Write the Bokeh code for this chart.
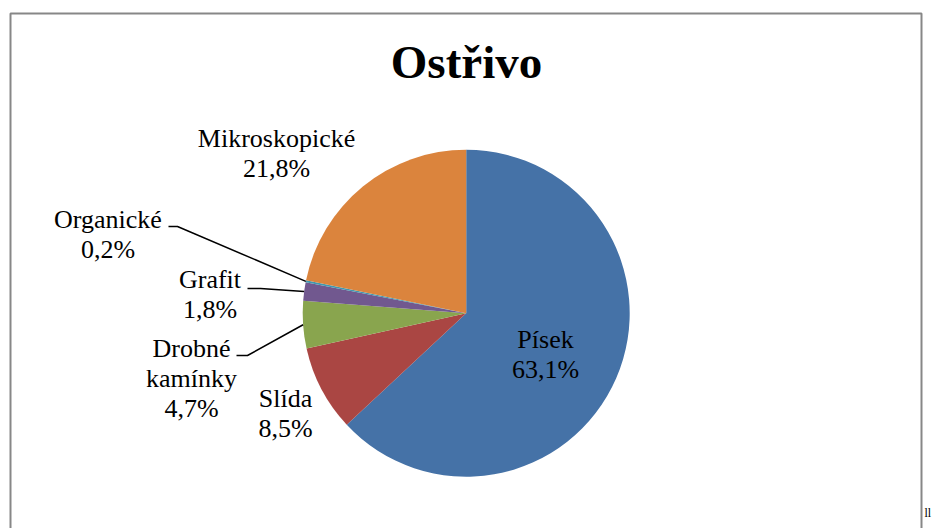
import math
from bokeh.plotting import figure
from bokeh.models import Range1d, ColumnDataSource
from bokeh.core.properties import value
from bokeh.embed import file_html
from bokeh.resources import INLINE

# ---- data ----
categories = ["Písek", "Slída", "Drobné kamínky", "Grafit", "Organické", "Mikroskopické"]
percent = [63.1, 8.5, 4.7, 1.8, 0.2, 21.8]
colors = ["#4572A7", "#AA4643", "#89A54E", "#71588F", "#4198AF", "#DB843D"]
title_text = "Ostřivo"

# ---- layout (page pixel coordinates) ----
W, H = 933, 528


def Y(py):
    return H - py


CX, CY, R = 465.7, 312.7, 163.5
FONT = value("'Liberation Serif', 'Times New Roman', serif")
LINE_GAP = 30
LABEL_SHIFT = 9     # baseline correction for 26px text
TITLE_SHIFT = 16    # baseline correction for 47px text

label_pos = {
    "Písek": (545, 348),
    "Slída": (285, 407),
    "Drobné kamínky": (191, 357),
    "Grafit": (209.5, 288),
    "Organické": (107.5, 228),
    "Mikroskopické": (276, 147),
}
# label-side anchor of leader lines: (text end x, elbow x, y)
leader_anchor = {
    "Organické": (168, 177, 226),
    "Grafit": (247, 260, 288),
    "Drobné kamínky": (236, 247, 355),
}

p = figure(width=W, height=H, x_range=Range1d(0, W), y_range=Range1d(0, H),
           output_backend="svg", toolbar_location=None, min_border=0,
           x_axis_location=None, y_axis_location=None)
p.grid.visible = False
p.outline_line_color = None
p.background_fill_color = "white"
p.border_fill_color = "white"

# chart border
p.quad(left=[10], right=[921], top=[Y(13)], bottom=[Y(560)], fill_color=None,
       line_color="#878787", line_width=2)

# pie
total = sum(percent)
starts, ends, mids = [], [], []
cum = 0.0
for v in percent:
    starts.append(math.pi / 2 - 2 * math.pi * cum / total)
    mids.append(math.pi / 2 - 2 * math.pi * (cum + v / 2) / total)
    cum += v
    ends.append(math.pi / 2 - 2 * math.pi * cum / total)

src = ColumnDataSource(dict(start=starts, end=ends, color=colors, cat=categories))
p.wedge(x=CX, y=Y(CY), radius=R, start_angle="start", end_angle="end",
        direction="clock", fill_color="color", line_color=None, source=src)

# leader lines
for cat, m in zip(categories, mids):
    if cat in leader_anchor:
        x0, x1, ly = leader_anchor[cat]
        ex = CX + R * math.cos(m)
        ey = Y(CY) + R * math.sin(m)
        p.line(x=[x0, x1, ex], y=[Y(ly), Y(ly), ey], line_color="black", line_width=1.5)

# labels
xs, ys, txt = [], [], []
for cat, v in zip(categories, percent):
    lines = cat.split(" ") + [f"{v:.1f}".replace(".", ",") + "%"]
    lx, ly = label_pos[cat]
    for i, t in enumerate(lines):
        xs.append(lx)
        ys.append(Y(ly + i * LINE_GAP - LABEL_SHIFT))
        txt.append(t)
p.text(x=xs, y=ys, text=txt, text_font=FONT, text_font_size="26px",
       text_align="center", text_baseline="alphabetic", text_color="black")

# title
p.text(x=[466], y=[Y(77 - TITLE_SHIFT)], text=[title_text], text_font=FONT,
       text_font_size="47px", text_font_style="bold", text_align="center",
       text_baseline="alphabetic", text_color="black")

# small text fragment near the bottom-right corner
p.text(x=[924], y=[Y(512)], text=["ll"], text_font=FONT, text_font_size="12px",
       text_align="left", text_baseline="alphabetic", text_color="black")

open("out.html", "w").write(file_html(p, INLINE))
